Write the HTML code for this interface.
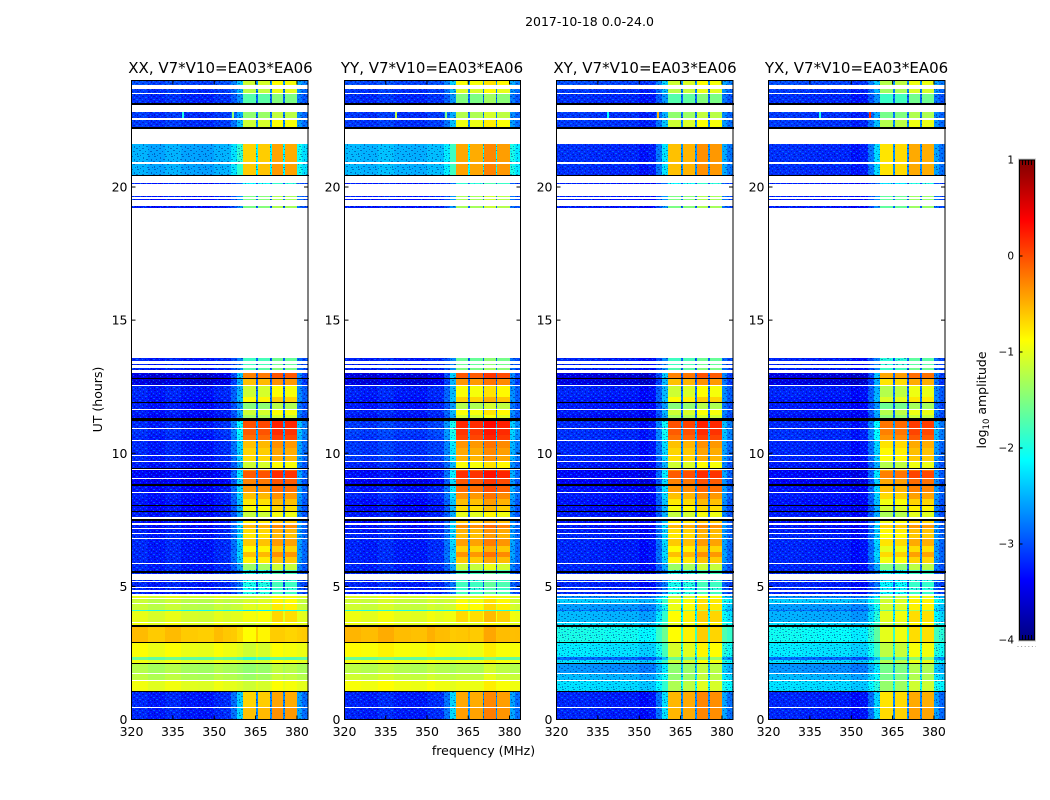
<!DOCTYPE html>
<html lang="en">
<head>
<meta charset="utf-8">
<title>2017-10-18 0.0-24.0</title>
<style>
html,body{margin:0;padding:0;background:#fff;}
svg{display:block;font-family:"DejaVu Sans","Liberation Sans",sans-serif;}
</style>
</head>
<body>
<svg id="fig" xmlns="http://www.w3.org/2000/svg" width="1050" height="800" viewBox="0 0 1050 800">
  <defs>
    <linearGradient id="jetGrad" x1="0" y1="1" x2="0" y2="0"></linearGradient>
    <pattern id="speckle" patternUnits="userSpaceOnUse" width="17" height="13" shape-rendering="crispEdges">
      <path fill="#000070" fill-opacity="0.4" d="M1 0h2v1h-2zM7 1h1v2h-1zM12 0h2v1h-2zM3 3h1v1h-1zM10 3h2v1h-2zM15 3h1v2h-1zM0 5h2v1h-2zM6 5h2v1h-2zM12 6h1v1h-1zM3 7h2v1h-2zM9 8h1v1h-1zM14 8h2v1h-2zM1 10h1v2h-1zM6 10h2v1h-2zM11 11h2v1h-2zM16 11h1v1h-1zM4 12h1v1h-1z"/>
      <path fill="#00a8ff" fill-opacity="0.5" d="M4 1h1v1h-1zM10 1h1v1h-1zM15 1h1v1h-1zM0 3h1v1h-1zM6 3h1v1h-1zM13 4h1v1h-1zM3 5h1v1h-1zM9 6h2v1h-2zM15 6h1v1h-1zM0 8h2v1h-2zM6 8h1v1h-1zM12 9h1v1h-1zM3 10h2v1h-2zM9 11h1v1h-1zM14 11h1v1h-1zM7 12h1v1h-1z"/>
    </pattern>
  </defs>
  <text x="589.5" y="26" font-size="12.5" text-anchor="middle">2017-10-18 0.0-24.0</text>
  <g id="panel-xx"></g>
  <g id="panel-yy"></g>
  <g id="panel-xy"></g>
  <g id="panel-yx"></g>
  <text x="220.5" y="73" font-size="15" text-anchor="middle">XX, V7*V10=EA03*EA06</text>
  <text x="432" y="73" font-size="15" text-anchor="middle">YY, V7*V10=EA03*EA06</text>
  <text x="645" y="73" font-size="15" text-anchor="middle">XY, V7*V10=EA03*EA06</text>
  <text x="856.5" y="73" font-size="15" text-anchor="middle">YX, V7*V10=EA03*EA06</text>
  <text transform="translate(102,399.5) rotate(-90)" font-size="12.5" text-anchor="middle">UT (hours)</text>
  <text x="483.5" y="755" font-size="12.5" text-anchor="middle">frequency (MHz)</text>
  <g id="colorbar"></g>
  <text transform="translate(986,400) rotate(-90)" font-size="12.5" text-anchor="middle">log<tspan font-size="8.5" dy="3">10</tspan><tspan dy="-3"> amplitude</tspan></text>
</svg>
<script>
// Frequency channel edges (MHz) and axis ticks
var freqEdges = [320,326,332,338,344,350,353,356,358.2,360.4,365,365.7,370.2,370.8,375,375.6,380,382,384];
var bandWeight = [0,0,0,0,0,0,0.03,0.15,0.35,1,0.2,1,0.2,1,0.2,1,0.24,0.14];
var xTickValues = [320,335,350,365,380];
var yTickValues = [0,5,10,15,20];
var cbarTickValues = [1,0,-1,-2,-3,-4];
var cbarTickLabels = ["1","0","\u22121","\u22122","\u22123","\u22124"];

// Spectral offsets (log10 amplitude) per channel, one array per polarisation
var xxShape = [0.06,-0.02,0.06,-0.02,-0.04,0.05,0,0,-0.05,-0.12,0,-0.08,0,0.12,0,0.08,0,0];
var yyShape = [0.04,0.0,0.08,0,-0.02,0.06,0,0,-0.05,0,0,-0.02,0,0.16,0,0.05,0,0];
var xyShape = [0.05,0.05,0.02,0,0,-0.1,-0.12,0,0,-0.12,0,-0.06,0,0.12,0,0.08,0,0];
var yxShape = [0.05,0.05,0.02,0,0,-0.1,-0.12,0,0,-0.15,0,-0.1,0,0.14,0,0.12,0,0];

// UT extent of each observed row (hours); anything not listed stays blank
var utStart = [0,0.47,1.07,1.48,1.74,2.12,2.23,2.34,2.91,3.54,
  3.66,4.07,4.11,4.37,4.56,4.71,4.86,4.97,5.2,5.46,
  5.57,5.61,5.87,6.1,6.3,6.5,6.81,7.0,7.18,7.37,
  7.6,7.82,8.05,8.28,8.53,8.83,9.06,9.32,9.43,9.7,
  9.92,10.2,10.48,10.7,10.94,11.31,11.42,11.68,11.91,12.1,
  12.58,12.81,13.11,13.3,13.45,19.23,19.52,19.63,20.12,20.46,
  20.95,22.26,22.59,23.17,23.54,23.84];
var utEnd = [0.43,1.03,1.44,1.71,2.08,2.23,2.34,2.87,3.47,3.62,
  4.07,4.11,4.33,4.52,4.63,4.78,4.93,5.16,5.23,5.5,
  5.61,5.83,6.1,6.3,6.5,6.77,6.96,7.15,7.3,7.45,
  7.78,8.01,8.28,8.5,8.76,9.02,9.32,9.36,9.66,9.88,
  10.2,10.45,10.7,10.9,11.23,11.42,11.61,11.87,12.1,12.51,
  12.77,13.03,13.22,13.37,13.56,19.27,19.56,19.68,20.16,20.87,
  21.62,22.51,22.82,23.49,23.68,23.97];

// Level of the quiet band (left) and of the four signal bands, per row
var xxLeft = [-3.25,-3.25,-1,-1.25,-1.3,-1,-1.65,-0.95,-0.6,-1,
  -1.05,-2.0,-1.2,-1.2,-1.05,-3.25,-3.25,-3.25,-3.25,-3.25,
  -3.25,-3.25,-3.25,-3.25,-3.25,-3.25,-3.25,-3.3,-3.3,-3.35,
  -3.3,-3.35,-3.35,-3.3,-3.35,-3.45,-3.4,-3.45,-3.3,-3.25,
  -3.25,-3.25,-3.25,-3.2,-3.25,-3.35,-3.3,-3.3,-3.3,-3.25,
  -3.55,-3.55,-3.25,-3.25,-3.25,-3.3,-3.3,-3.3,-3.3,-2.55,
  -2.55,-3.15,-3.15,-3.2,-3.15,-3.05];
var xxBand = [-0.45,-0.55,-1,-1.25,-1.3,-1,-1.8,-1,-0.75,-1,
  -0.8,-2.1,-0.9,-0.95,-1,-1.9,-2,-1.9,-2,-1.9,
  -1.9,-1.25,-0.7,-0.45,-0.75,-0.5,-0.65,-0.6,-0.4,-0.7,
  -1.05,-0.8,-0.65,-0.45,-0.25,-0.15,0.05,-0.2,-1,-0.6,
  -0.55,-0.45,-0.05,0.05,0.1,-1.2,-1,-1.35,-0.75,-1,
  -0.45,-0.15,-1.6,-1.7,-1.7,-1.4,-1.4,-1.4,-2,-0.5,
  -0.55,-1,-1.3,-1.6,-1.1,-1];
var yyLeft = [-3.25,-3.25,-0.95,-1.15,-1.25,-0.95,-1.65,-0.9,-0.55,-1,
  -1,-2.0,-1.15,-1.15,-1.05,-3.25,-3.25,-3.25,-3.25,-3.25,
  -3.25,-3.25,-3.25,-3.25,-3.25,-3.25,-3.25,-3.3,-3.3,-3.35,
  -3.3,-3.35,-3.35,-3.25,-3.3,-3.45,-3.35,-3.45,-3.25,-3.15,
  -3.15,-3.15,-3.15,-3.1,-3.15,-3.3,-3.25,-3.3,-3.3,-3.25,
  -3.55,-3.55,-3.25,-3.25,-3.25,-3.3,-3.3,-3.3,-3.3,-2.5,
  -2.5,-3.15,-3.15,-3.2,-3.15,-3.05];
var yyBand = [-0.4,-0.45,-0.95,-1.15,-1.25,-0.95,-1.7,-0.95,-0.6,-1,
  -0.7,-2,-0.85,-0.9,-1,-1.8,-1.9,-1.8,-1.9,-1.8,
  -1.8,-1.15,-0.6,-0.35,-0.65,-0.4,-0.55,-0.5,-0.3,-0.6,
  -1,-0.7,-0.55,-0.35,-0.15,-0.05,0.15,-0.1,-0.9,-0.5,
  -0.45,-0.35,0.05,0.12,0.18,-1.1,-0.9,-1.25,-0.65,-0.9,
  -0.35,-0.05,-1.5,-1.6,-1.6,-1.3,-1.3,-1.3,-1.9,-0.42,
  -0.45,-0.95,-1.25,-1.5,-1.05,-0.9];
var xyLeft = [-3.25,-3.25,-2.3,-2.5,-2.7,-2.3,-2.9,-2.25,-2.05,-2.3,
  -2.5,-2.9,-2.65,-2.4,-2.75,-3.25,-3.25,-3.25,-3.25,-3.25,
  -3.25,-3.25,-3.25,-3.25,-3.25,-3.25,-3.25,-3.3,-3.3,-3.35,
  -3.3,-3.35,-3.35,-3.3,-3.35,-3.45,-3.4,-3.45,-3.3,-3.25,
  -3.25,-3.25,-3.2,-3.2,-3.25,-3.35,-3.3,-3.3,-3.3,-3.25,
  -3.55,-3.55,-3.25,-3.25,-3.25,-3.3,-3.3,-3.3,-3.3,-3.2,
  -3.2,-3.15,-3.15,-3.2,-3.15,-3.05];
var xyBand = [-0.4,-0.4,-1.15,-1.3,-1.3,-1,-1.5,-0.95,-0.75,-0.9,
  -0.75,-1.4,-0.85,-0.85,-1,-1.9,-2,-1.9,-2,-1.9,
  -1.9,-1.25,-0.7,-0.45,-0.75,-0.5,-0.65,-0.6,-0.4,-0.7,
  -1.05,-0.8,-0.65,-0.45,-0.25,-0.15,0.05,-0.2,-1,-0.6,
  -0.55,-0.45,-0.05,0.05,0.1,-1.2,-1,-1.35,-0.75,-1,
  -0.45,-0.15,-1.6,-1.7,-1.7,-1.4,-1.4,-1.4,-2,-0.45,
  -0.45,-1,-1.3,-1.6,-1.1,-1];
var yxLeft = [-3.25,-3.25,-2.3,-2.5,-2.7,-2.3,-2.9,-2.25,-2.1,-2.3,
  -2.55,-2.9,-2.65,-2.4,-2.75,-3.25,-3.25,-3.25,-3.25,-3.25,
  -3.25,-3.25,-3.25,-3.25,-3.25,-3.25,-3.25,-3.3,-3.3,-3.35,
  -3.3,-3.35,-3.35,-3.3,-3.35,-3.45,-3.4,-3.45,-3.3,-3.25,
  -3.25,-3.25,-3.2,-3.2,-3.25,-3.35,-3.3,-3.3,-3.3,-3.25,
  -3.55,-3.55,-3.25,-3.25,-3.25,-3.3,-3.3,-3.3,-3.3,-3.2,
  -3.2,-3.15,-3.15,-3.2,-3.15,-3.05];
var yxBand = [-0.55,-0.6,-1.25,-1.4,-1.4,-1.1,-1.6,-1.05,-0.85,-1,
  -0.85,-1.5,-0.95,-0.95,-1.1,-2,-2.1,-2,-2.1,-2,
  -2,-1.35,-0.8,-0.55,-0.85,-0.6,-0.75,-0.7,-0.5,-0.8,
  -1.15,-0.95,-0.8,-0.55,-0.4,-0.3,-0.1,-0.35,-1.1,-0.75,
  -0.7,-0.6,-0.2,-0.1,-0.05,-1.3,-1.1,-1.45,-0.9,-1.1,
  -0.6,-0.3,-1.7,-1.8,-1.8,-1.5,-1.5,-1.5,-2.1,-0.6,
  -0.6,-1.1,-1.4,-1.7,-1.2,-1.1];

// Fully flagged (black) rows in UT hours
var blackStart = [1.03,2.08,2.87,3.47,5.5,7.45,7.78,8.01,8.76,9.4,11.23,11.87,12.77,20.4,22.19,23.09];
var blackEnd = [1.07,2.12,2.91,3.54,5.57,7.52,7.82,8.05,8.83,9.43,11.31,11.91,12.81,20.45,22.24,23.16];

// Narrow interference lines seen between 22.6 and 22.8 UT
var rfiStartUT = 22.59;
var rfiEndUT = 22.82;
var rfiFreq = [338.2,356.6];
var xxRfi = [-2.0,-1.4];
var yyRfi = [-1.2,-1.5];
var xyRfi = [-2.1,-0.5];
var yxRfi = [-2.0,0.2];

var SVGNS = 'http://www.w3.org/2000/svg';
var plotTop = 80.5, plotBottom = 719.5;
var utMax = 24, freqMin = 320, freqMax = 384;
var levelMin = -4, levelMax = 1;
var cbarX = 1019.5, cbarW = 15, cbarTop = 160, cbarBottom = 640;

function make(tag, attrs) {
  var n = document.createElementNS(SVGNS, tag);
  for (var k in attrs) n.setAttribute(k, attrs[k]);
  return n;
}
function clamp01(v) { return Math.max(0, Math.min(1, v)); }
function jet(t) {
  var r = clamp01(Math.min(4 * t - 1.5, -4 * t + 4.5));
  var g = clamp01(Math.min(4 * t - 0.5, -4 * t + 3.5));
  var b = clamp01(Math.min(4 * t + 0.5, -4 * t + 2.5));
  return 'rgb(' + Math.round(r * 255) + ',' + Math.round(g * 255) + ',' + Math.round(b * 255) + ')';
}
function levelColor(v) { return jet((v - levelMin) / (levelMax - levelMin)); }
function yScale(u) { return plotBottom - (u / utMax) * (plotBottom - plotTop); }

function drawPanel(id, left, width, rowLeft, rowBand, shape, rfi) {
  var g = document.getElementById(id);
  function xScale(f) { return left + (f - freqMin) / (freqMax - freqMin) * width; }
  for (var r = 0; r < utStart.length; r++) {
    var yT = Math.round(yScale(utEnd[r]));
    var yB = Math.round(yScale(utStart[r]));
    for (var c = 0; c < bandWeight.length; c++) {
      var x0 = Math.round(xScale(freqEdges[c]));
      var x1 = Math.round(xScale(freqEdges[c + 1]));
      var lvl = rowLeft[r] + bandWeight[c] * (rowBand[r] - rowLeft[r]) + shape[c];
      var cell = make('rect', {x: x0, y: yT, width: x1 - x0, height: Math.max(1, yB - yT), fill: levelColor(lvl), 'shape-rendering': 'crispEdges'});
      
      
      g.appendChild(cell);
      if (rowLeft[r] < -2 && lvl < -1.9) {
        var grain = make('rect', {x: x0, y: yT, width: x1 - x0, height: Math.max(1, yB - yT), fill: 'url(#speckle)', 'shape-rendering': 'crispEdges'});
        
        
        g.appendChild(grain);
      }
    }
  }
  rfiFreq.forEach(function (f, i) {
    var line = make('rect', {x: Math.round(xScale(f)), y: Math.round(yScale(rfiEndUT)), width: 2, height: Math.round(yScale(rfiStartUT)) - Math.round(yScale(rfiEndUT)), fill: levelColor(rfi[i]), 'shape-rendering': 'crispEdges'});
    
    
    g.appendChild(line);
  });
  for (var b = 0; b < blackStart.length; b++) {
    var by = Math.round(yScale(blackEnd[b]));
    var bh = Math.max(1, Math.round(yScale(blackStart[b])) - by);
    var flag = make('rect', {x: Math.round(left), y: by, width: Math.round(width), height: bh, fill: '#000', 'shape-rendering': 'crispEdges'});
    
    
    g.appendChild(flag);
  }
  var frame = make('rect', {x: left, y: plotTop, width: width, height: plotBottom - plotTop, fill: 'none', stroke: '#000', 'stroke-width': 1});
  
  
  g.appendChild(frame);
  xTickValues.forEach(function (f) {
    var x = xScale(f);
    var tb = make('line', {x1: x, x2: x, y1: plotBottom, y2: plotBottom - 4, stroke: '#000'});
    
    
    g.appendChild(tb);
    var tt = make('line', {x1: x, x2: x, y1: plotTop, y2: plotTop + 4, stroke: '#000'});
    
    
    g.appendChild(tt);
    var lab = make('text', {x: x, y: 736, 'font-size': 12.5, 'text-anchor': 'middle'});
    
    
    lab.textContent = String(f);
    g.appendChild(lab);
  });
  yTickValues.forEach(function (u) {
    var y = yScale(u);
    var tl = make('line', {x1: left, x2: left + 4, y1: y, y2: y, stroke: '#000'});
    
    
    g.appendChild(tl);
    var tr = make('line', {x1: left + width, x2: left + width - 4, y1: y, y2: y, stroke: '#000'});
    
    
    g.appendChild(tr);
    var lab = make('text', {x: left - 4, y: y + 4.5, 'font-size': 12.5, 'text-anchor': 'end'});
    
    
    lab.textContent = String(u);
    g.appendChild(lab);
  });
}

drawPanel('panel-xx', 131.5, 176.5, xxLeft, xxBand, xxShape, xxRfi);
drawPanel('panel-yy', 344.5, 176, yyLeft, yyBand, yyShape, yyRfi);
drawPanel('panel-xy', 556.5, 176.5, xyLeft, xyBand, xyShape, xyRfi);
drawPanel('panel-yx', 768.5, 176.5, yxLeft, yxBand, yxShape, yxRfi);

(function () {
  var grad = document.getElementById('jetGrad');
  for (var i = 0; i <= 32; i++) {
    var stop = make('stop', {offset: (i / 32 * 100) + '%', 'stop-color': jet(i / 32)});
    
    
    grad.appendChild(stop);
  }
  var g = document.getElementById('colorbar');
  var outer = make('rect', {x: cbarX - 1, y: cbarTop - 1, width: cbarW + 2, height: cbarBottom - cbarTop + 2, fill: 'none', stroke: '#c8c8c8', 'stroke-width': 1});
  
  
  g.appendChild(outer);
  var bar = make('rect', {x: cbarX, y: cbarTop, width: cbarW, height: cbarBottom - cbarTop, fill: 'url(#jetGrad)', stroke: '#000', 'stroke-width': 1});
  
  
  g.appendChild(bar);
  cbarTickValues.forEach(function (v, i) {
    var y = cbarBottom - (v - levelMin) / (levelMax - levelMin) * (cbarBottom - cbarTop);
    var tick = make('line', {x1: cbarX, x2: cbarX + 3, y1: y, y2: y, stroke: '#000'});
    
    
    g.appendChild(tick);
    var lab = make('text', {x: 1014, y: y + 3.5, 'font-size': 10.5, 'text-anchor': 'end'});
    
    
    lab.textContent = cbarTickLabels[i];
    g.appendChild(lab);
  });
  for (var k = 1; k <= 4; k++) {
    var sx = cbarX + k * 3;
    var st = make('line', {x1: sx, x2: sx, y1: cbarTop, y2: cbarTop + 5, stroke: '#000'});
    
    
    g.appendChild(st);
    var sb = make('line', {x1: sx, x2: sx, y1: cbarBottom, y2: cbarBottom - 5, stroke: '#000'});
    
    
    g.appendChild(sb);
  }
  var dots = make('line', {x1: 1017.5, x2: 1036, y1: 646.5, y2: 646.5, stroke: '#999', 'stroke-dasharray': '1 2.6'});
  
  
  g.appendChild(dots);
})();
</script>
</body>
</html>
